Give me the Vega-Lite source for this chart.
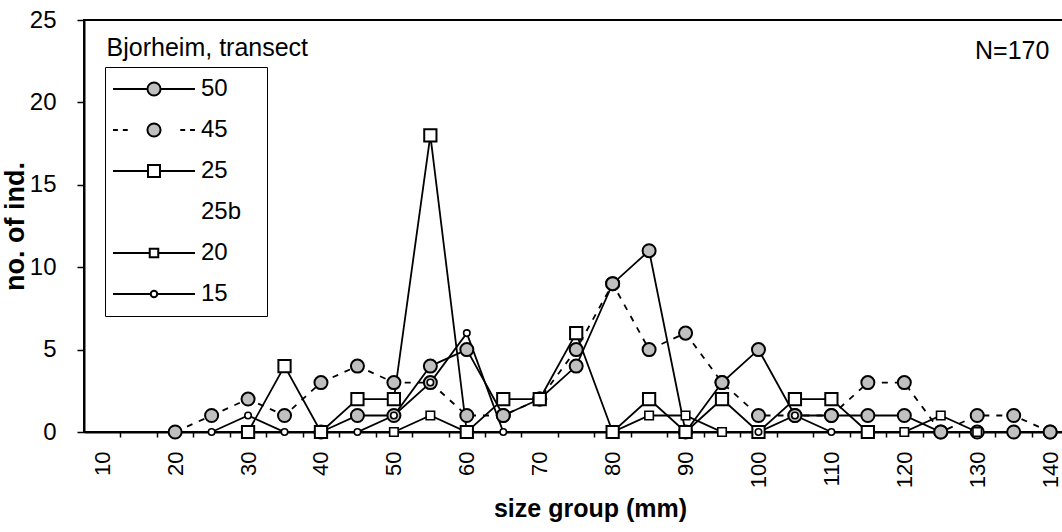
{
  "$schema": "https://vega.github.io/schema/vega-lite/v6.json",
  "width": 980,
  "height": 412,
  "autosize": {"type": "none"},
  "padding": {"left": 84, "top": 20, "right": 0, "bottom": 100},
  "background": "white",
  "config": {
    "font": "Liberation Sans",
    "view": {"stroke": "black", "strokeWidth": 2},
    "axis": {
      "labelFont": "Liberation Sans",
      "titleFont": "Liberation Sans",
      "labelColor": "black",
      "titleColor": "black",
      "domainColor": "black",
      "tickColor": "black",
      "grid": false,
      "labelFontSize": 22,
      "titleFontSize": 25
    }
  },
  "data": {
    "values": [
      {"s": "50", "x": 40, "y": 0}, {"s": "50", "x": 45, "y": 1}, {"s": "50", "x": 50, "y": 1}, {"s": "50", "x": 55, "y": 4},
      {"s": "50", "x": 60, "y": 5}, {"s": "50", "x": 65, "y": 1}, {"s": "50", "x": 70, "y": 2}, {"s": "50", "x": 75, "y": 4},
      {"s": "50", "x": 80, "y": 9}, {"s": "50", "x": 85, "y": 11}, {"s": "50", "x": 90, "y": 0}, {"s": "50", "x": 95, "y": 3},
      {"s": "50", "x": 100, "y": 5}, {"s": "50", "x": 105, "y": 1}, {"s": "50", "x": 110, "y": 1}, {"s": "50", "x": 115, "y": 1},
      {"s": "50", "x": 120, "y": 1}, {"s": "50", "x": 125, "y": 0}, {"s": "50", "x": 130, "y": 0}, {"s": "50", "x": 135, "y": 0},
      {"s": "50", "x": 140, "y": 0},
      {"s": "45", "x": 20, "y": 0}, {"s": "45", "x": 25, "y": 1}, {"s": "45", "x": 30, "y": 2}, {"s": "45", "x": 35, "y": 1},
      {"s": "45", "x": 40, "y": 3}, {"s": "45", "x": 45, "y": 4}, {"s": "45", "x": 50, "y": 3}, {"s": "45", "x": 55, "y": 3},
      {"s": "45", "x": 60, "y": 1}, {"s": "45", "x": 65, "y": 1}, {"s": "45", "x": 70, "y": 2}, {"s": "45", "x": 75, "y": 5},
      {"s": "45", "x": 80, "y": 9}, {"s": "45", "x": 85, "y": 5}, {"s": "45", "x": 90, "y": 6}, {"s": "45", "x": 95, "y": 3},
      {"s": "45", "x": 100, "y": 1}, {"s": "45", "x": 105, "y": 1}, {"s": "45", "x": 110, "y": 1}, {"s": "45", "x": 115, "y": 3},
      {"s": "45", "x": 120, "y": 3}, {"s": "45", "x": 125, "y": 0}, {"s": "45", "x": 130, "y": 1}, {"s": "45", "x": 135, "y": 1},
      {"s": "45", "x": 140, "y": 0},
      {"s": "25", "x": 30, "y": 0}, {"s": "25", "x": 35, "y": 4}, {"s": "25", "x": 40, "y": 0}, {"s": "25", "x": 45, "y": 2},
      {"s": "25", "x": 50, "y": 2}, {"s": "25", "x": 55, "y": 18}, {"s": "25", "x": 60, "y": 0}, {"s": "25", "x": 65, "y": 2},
      {"s": "25", "x": 70, "y": 2}, {"s": "25", "x": 75, "y": 6}, {"s": "25", "x": 80, "y": 0}, {"s": "25", "x": 85, "y": 2},
      {"s": "25", "x": 90, "y": 0}, {"s": "25", "x": 95, "y": 2}, {"s": "25", "x": 100, "y": 0}, {"s": "25", "x": 105, "y": 2},
      {"s": "25", "x": 110, "y": 2}, {"s": "25", "x": 115, "y": 0},
      {"s": "20", "x": 50, "y": 0}, {"s": "20", "x": 55, "y": 1}, {"s": "20", "x": 60, "y": 0}, {"s": "20", "x": 80, "y": 0},
      {"s": "20", "x": 85, "y": 1}, {"s": "20", "x": 90, "y": 1}, {"s": "20", "x": 95, "y": 0}, {"s": "20", "x": 100, "y": 0},
      {"s": "20", "x": 120, "y": 0}, {"s": "20", "x": 125, "y": 1}, {"s": "20", "x": 130, "y": 0},
      {"s": "15", "x": 25, "y": 0}, {"s": "15", "x": 30, "y": 1}, {"s": "15", "x": 35, "y": 0}, {"s": "15", "x": 45, "y": 0},
      {"s": "15", "x": 50, "y": 1}, {"s": "15", "x": 55, "y": 3}, {"s": "15", "x": 60, "y": 6}, {"s": "15", "x": 65, "y": 0},
      {"s": "15", "x": 100, "y": 0}, {"s": "15", "x": 105, "y": 1}, {"s": "15", "x": 110, "y": 0}
    ]
  },
  "resolve": {"axis": {"x": "independent"}},
  "layer": [
    {
      "transform": [{"filter": "datum.s !== '45'"}],
      "mark": {"type": "line", "color": "black", "strokeWidth": 1.8},
      "encoding": {
        "x": {
          "field": "x", "type": "quantitative",
          "scale": {"domain": [7.5, 141.9], "nice": false, "zero": false},
          "axis": {
            "orient": "bottom",
            "values": [10, 20, 30, 40, 50, 60, 70, 80, 90, 100, 110, 120, 130, 140],
            "ticks": false, "domain": true, "domainWidth": 2,
            "labelAngle": 270, "labelAlign": "right", "labelBaseline": "middle",
            "labelPadding": 19, "labelFlush": false, "labelOverlap": false,
            "title": "size group (mm)", "titleFontWeight": "bold", "titlePadding": 9, "titleX": 506
          }
        },
        "y": {
          "field": "y", "type": "quantitative",
          "scale": {"domain": [0, 25], "nice": false, "zero": true},
          "axis": {
            "orient": "left",
            "values": [0, 5, 10, 15, 20, 25],
            "title": "no. of ind.", "titleFontWeight": "bold", "titleFontSize": 27,
            "labelFontSize": 24,
            "tickSize": 7, "tickWidth": 1.5, "domainWidth": 2,
            "labelPadding": 21, "titlePadding": 0, "labelFlush": false
          }
        },
        "detail": {"field": "s"}
      }
    },
    {
      "transform": [{"filter": "datum.s === '45'"}],
      "mark": {"type": "line", "color": "black", "strokeWidth": 1.8, "strokeDash": [6, 7]},
      "encoding": {
        "x": {
          "field": "x", "type": "quantitative",
          "axis": {
            "orient": "bottom",
            "values": [12.5, 17.5, 22.5, 27.5, 32.5, 37.5, 42.5, 47.5, 52.5, 57.5, 62.5, 67.5, 72.5, 77.5, 82.5, 87.5, 92.5, 97.5, 102.5, 107.5, 112.5, 117.5, 122.5, 127.5, 132.5, 137.5],
            "labels": false, "ticks": true, "tickSize": 5, "tickWidth": 1.5,
            "domain": false, "title": null
          }
        },
        "y": {"field": "y", "type": "quantitative"}
      }
    },
    {
      "transform": [{"filter": "datum.s === '50' || datum.s === '45'"}],
      "mark": {"type": "point", "shape": "circle", "size": 170, "filled": true, "fill": "#c0c0c0", "stroke": "black", "strokeWidth": 2, "opacity": 1},
      "encoding": {
        "x": {"field": "x", "type": "quantitative", "axis": null},
        "y": {"field": "y", "type": "quantitative"}
      }
    },
    {
      "transform": [{"filter": "datum.s === '20'"}],
      "mark": {"type": "point", "shape": "square", "size": 72, "filled": true, "fill": "white", "stroke": "black", "strokeWidth": 1.6, "opacity": 1},
      "encoding": {
        "x": {"field": "x", "type": "quantitative", "axis": null},
        "y": {"field": "y", "type": "quantitative"}
      }
    },
    {
      "transform": [{"filter": "datum.s === '25'"}],
      "mark": {"type": "point", "shape": "square", "size": 150, "filled": true, "fill": "white", "stroke": "black", "strokeWidth": 2, "opacity": 1},
      "encoding": {
        "x": {"field": "x", "type": "quantitative", "axis": null},
        "y": {"field": "y", "type": "quantitative"}
      }
    },
    {
      "transform": [{"filter": "datum.s === '15'"}],
      "mark": {"type": "point", "shape": "circle", "size": 42, "filled": true, "fill": "white", "stroke": "black", "strokeWidth": 1.6, "opacity": 1},
      "encoding": {
        "x": {"field": "x", "type": "quantitative", "axis": null},
        "y": {"field": "y", "type": "quantitative"}
      }
    },
    {
      "mark": {"type": "point", "filled": true, "opacity": 0, "stroke": "black", "strokeWidth": 2},
      "encoding": {
        "x": {"field": "x", "type": "quantitative", "axis": null},
        "y": {"field": "y", "type": "quantitative"},
        "shape": {
          "field": "s", "type": "nominal",
          "scale": {
            "domain": ["50", "45", "25", "25b", "20", "15"],
            "range": [
              "M-1,0H-0.16M0.16,0H1M0.16,0C0.16,0.0884,0.0884,0.16,0,0.16C-0.0884,0.16,-0.16,0.0884,-0.16,0C-0.16,-0.0884,-0.0884,-0.16,0,-0.16C0.0884,-0.16,0.16,-0.0884,0.16,0Z",
              "M-1,0H-0.88M-0.76,0H-0.64M0.64,0H0.76M0.88,0H1M0.16,0C0.16,0.0884,0.0884,0.16,0,0.16C-0.0884,0.16,-0.16,0.0884,-0.16,0C-0.16,-0.0884,-0.0884,-0.16,0,-0.16C0.0884,-0.16,0.16,-0.0884,0.16,0Z",
              "M-1,0H-0.146M0.146,0H1M-0.146,-0.146H0.146V0.146H-0.146Z",
              "M0,0",
              "M-1,0H-0.104M0.104,0H1M-0.104,-0.104H0.104V0.104H-0.104Z",
              "M-1,0H-0.079M0.079,0H1M0.079,0C0.079,0.0436,0.0436,0.079,0,0.079C-0.0436,0.079,-0.079,0.0436,-0.079,0C-0.079,-0.0436,-0.0436,-0.079,0,-0.079C0.0436,-0.079,0.079,-0.0436,0.079,0Z"
            ]
          },
          "legend": {
            "orient": "none", "legendX": 21, "legendY": 47, "title": null,
            "symbolSize": 6724, "symbolStrokeWidth": 2, "symbolStrokeColor": "black", "symbolOpacity": 1,
            "labelFontSize": 24, "labelFont": "Liberation Sans", "labelColor": "black",
            "labelOffset": 5, "symbolOffset": 0, "padding": 7, "rowPadding": 11, "clipHeight": 30,
            "strokeColor": "black",
            "encode": {
              "symbols": {"update": {"stroke": {"value": "black"}, "strokeWidth": {"value": 2}, "opacity": {"value": 1}}},
              "labels": {"update": {"text": {"signal": "datum.label + '\u2800'"}}}
            }
          }
        },
        "fill": {
          "field": "s", "type": "nominal",
          "scale": {
            "domain": ["50", "45", "25", "25b", "20", "15"],
            "range": ["#c0c0c0", "#c0c0c0", "white", "white", "white", "white"]
          },
          "legend": {
            "orient": "none", "legendX": 21, "legendY": 47, "title": null,
            "symbolSize": 6724, "symbolStrokeWidth": 2, "symbolStrokeColor": "black", "symbolOpacity": 1,
            "labelFontSize": 24, "labelFont": "Liberation Sans", "labelColor": "black",
            "labelOffset": 5, "symbolOffset": 0, "padding": 7, "rowPadding": 11, "clipHeight": 30,
            "strokeColor": "black",
            "encode": {
              "symbols": {"update": {"stroke": {"value": "black"}, "strokeWidth": {"value": 2}, "opacity": {"value": 1}}},
              "labels": {"update": {"text": {"signal": "datum.label + '\u2800'"}}}
            }
          }
        }
      }
    },
    {
      "data": {"values": [{"t": "Bjorheim, transect"}]},
      "mark": {"type": "text", "align": "left", "baseline": "middle", "fontSize": 25, "font": "Liberation Sans", "color": "black"},
      "encoding": {
        "x": {"datum": 10.6, "type": "quantitative", "axis": null},
        "y": {"datum": 23.3, "type": "quantitative"},
        "text": {"field": "t"}
      }
    },
    {
      "data": {"values": [{"t": "N=170"}]},
      "mark": {"type": "text", "align": "center", "baseline": "middle", "fontSize": 25, "font": "Liberation Sans", "color": "black"},
      "encoding": {
        "x": {"datum": 134.8, "type": "quantitative", "axis": null},
        "y": {"datum": 23.1, "type": "quantitative"},
        "text": {"field": "t"}
      }
    }
  ]
}
